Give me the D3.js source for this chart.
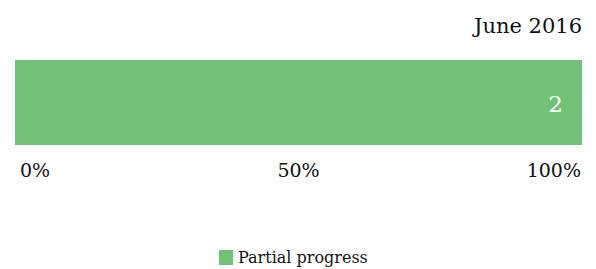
<!DOCTYPE html>
<html><head><meta charset="utf-8">
<script src="https://cdn.jsdelivr.net/npm/d3@7"></script>
<style>body{margin:0;background:#fff}svg{display:block}</style>
</head><body><svg id="c" width="596" height="269"></svg>
<script>
const categories = ["June 2016"];
const seriesNames = ["Partial progress"];
const seriesValues = [[2]];
const tickValues = [0, 0.5, 1];
const tickLabels = ["0%", "50%", "100%"];
const colors = ["#71c277"];
const FONT = "'DejaVu Serif', 'Liberation Serif', serif";

const svg = d3.select("#c").style("font-family", FONT);
const x = d3.scaleLinear().domain([0, 1]).range([15, 582]);
const y = d3.scaleBand().domain(categories).range([60, 145]).padding(0);

const total = d3.sum(seriesValues.map(s => s[0]));
let acc = 0;
seriesNames.forEach((n, i) => {
  const v = seriesValues[i][0];
  const x0 = x(acc / total), x1 = x((acc + v) / total);
  acc += v;
  svg.append("rect").attr("x", x0).attr("y", y(categories[0])).attr("width", x1 - x0)
    .attr("height", y.bandwidth()).attr("fill", colors[i]);
  svg.append("text").attr("x", x1 - 19).attr("y", y(categories[0]) + y.bandwidth() / 2 + 9)
    .attr("text-anchor", "end").attr("fill", "#fff").attr("font-family", FONT).attr("font-size", 23).text(v);
});

svg.append("text").attr("x", 582).attr("y", 33).attr("text-anchor", "end").attr("font-family", FONT)
  .attr("font-size", 21).attr("fill", "#111").text(categories[0]);

tickValues.forEach((t, i) => {
  svg.append("text").attr("x", i === 0 ? x(t) + 5 : i === tickValues.length - 1 ? x(t) - 1 : x(t))
    .attr("y", 177).attr("text-anchor", i === 0 ? "start" : i === tickValues.length - 1 ? "end" : "middle")
    .attr("font-family", FONT).attr("font-size", 19).attr("fill", "#111").text(tickLabels[i]);
});

const lg = svg.append("g");
seriesNames.forEach((n, i) => {
  lg.append("rect").attr("x", 219).attr("y", 250).attr("width", 14).attr("height", 15).attr("fill", colors[i]);
  lg.append("text").attr("x", 238).attr("y", 263).attr("font-family", FONT).attr("font-size", 16).attr("fill", "#111").text(n);
});
</script></body></html>
